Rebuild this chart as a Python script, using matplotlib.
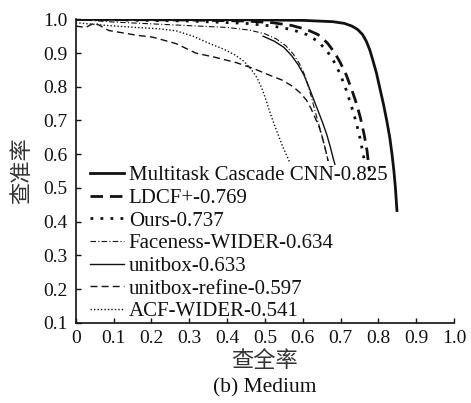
import matplotlib
matplotlib.use('Agg')
import matplotlib.pyplot as plt

plt.rcParams['font.family'] = ['Liberation Serif', 'Noto Sans CJK SC']

# recall / precision points
mtcnn_x = [0.0, 0.4, 0.6, 0.68, 0.71, 0.73, 0.745, 0.758, 0.768, 0.777, 0.785, 0.795,
           0.805, 0.814, 0.822, 0.83, 0.836, 0.841, 0.845, 0.849]
mtcnn_y = [1.0, 0.999, 0.997, 0.993, 0.988, 0.98, 0.97, 0.955, 0.935, 0.91, 0.88, 0.84,
           0.79, 0.745, 0.70, 0.65, 0.60, 0.55, 0.50, 0.433]

ldcf_x = [0.0, 0.3, 0.45, 0.52, 0.57, 0.61, 0.64, 0.665, 0.685, 0.70, 0.715, 0.73,
          0.742, 0.752, 0.762, 0.77, 0.775, 0.777]
ldcf_y = [1.0, 0.998, 0.995, 0.99, 0.982, 0.97, 0.955, 0.93, 0.90, 0.87, 0.835, 0.79,
          0.75, 0.71, 0.66, 0.61, 0.56, 0.55]

ours_x = [0.0, 0.3, 0.45, 0.52, 0.57, 0.61, 0.64, 0.665, 0.685, 0.70, 0.715, 0.728,
          0.74, 0.75, 0.758, 0.763]
ours_y = [1.0, 0.995, 0.988, 0.98, 0.97, 0.955, 0.935, 0.905, 0.87, 0.835, 0.79, 0.745,
          0.70, 0.655, 0.61, 0.58]

faceness_x = [0.0, 0.1, 0.25, 0.4, 0.46, 0.5, 0.53, 0.555, 0.575, 0.592, 0.605, 0.615,
              0.624, 0.632, 0.642, 0.652, 0.66, 0.667]
faceness_y = [1.0, 0.992, 0.984, 0.976, 0.968, 0.957, 0.942, 0.922, 0.897, 0.867, 0.835, 0.80,
              0.765, 0.73, 0.69, 0.65, 0.615, 0.58]

unitbox_x = [0.495, 0.525, 0.55, 0.57, 0.588, 0.603, 0.616, 0.628, 0.64, 0.652, 0.663,
             0.672, 0.68, 0.685]
unitbox_y = [0.95, 0.935, 0.917, 0.893, 0.865, 0.835, 0.80, 0.765, 0.73, 0.695, 0.66,
             0.625, 0.59, 0.57]

refine_x = [0.0, 0.026, 0.05, 0.087, 0.16, 0.204, 0.265, 0.317, 0.37, 0.423, 0.468,
            0.513, 0.545, 0.575, 0.595, 0.61, 0.622, 0.634, 0.645, 0.655, 0.663, 0.667]
refine_y = [0.98, 0.976, 0.99, 0.967, 0.953, 0.947, 0.928, 0.90, 0.887, 0.872, 0.855,
            0.834, 0.82, 0.80, 0.78, 0.76, 0.735, 0.705, 0.675, 0.635, 0.60, 0.58]

acf_x = [0.0, 0.08, 0.16, 0.22, 0.265, 0.31, 0.35, 0.39, 0.42, 0.445, 0.465, 0.48,
         0.492, 0.503, 0.513, 0.524, 0.536, 0.548, 0.56, 0.566]
acf_y = [0.99, 0.982, 0.976, 0.972, 0.966, 0.95, 0.93, 0.912, 0.895, 0.875, 0.85, 0.825,
         0.795, 0.76, 0.725, 0.69, 0.655, 0.62, 0.59, 0.575]

labels = ['Multitask Cascade CNN-0.825', 'LDCF+-0.769', 'Ours-0.737',
          'Faceness-WIDER-0.634', 'unitbox-0.633', 'unitbox-refine-0.597',
          'ACF-WIDER-0.541']

xticks = [0, 0.1, 0.2, 0.3, 0.4, 0.5, 0.6, 0.7, 0.8, 0.9, 1.0]
xticklabels = ['0', '0.1', '0.2', '0.3', '0.4', '0.5', '0.6', '0.7', '0.8', '0.9', '1.0']
yticks = [0.1, 0.2, 0.3, 0.4, 0.5, 0.6, 0.7, 0.8, 0.9, 1.0]
yticklabels = ['0.1', '0.2', '0.3', '0.4', '0.5', '0.6', '0.7', '0.8', '0.9', '1.0']

fig = plt.figure(figsize=(4.71, 4.03), dpi=100)
ax = fig.add_axes([0.161, 0.199, 0.803, 0.753])

k = '#111111'
ax.plot(mtcnn_x, mtcnn_y, color=k, lw=2.0, label=labels[0])
ax.plot(ldcf_x, ldcf_y, color=k, lw=2.0, dashes=(4.5, 2.5), label=labels[1])
ax.plot(ours_x, ours_y, color=k, lw=2.0, dashes=(1.0, 2.6), label=labels[2])
ax.plot(faceness_x, faceness_y, color=k, lw=0.8, dashes=(5, 2, 1, 2), label=labels[3])
ax.plot(unitbox_x, unitbox_y, color=k, lw=1.0, label=labels[4])
ax.plot(refine_x, refine_y, color=k, lw=1.0, dashes=(5, 3), label=labels[5])
ax.plot(acf_x, acf_y, color=k, lw=1.0, dashes=(1, 1.5), label=labels[6])

ax.set_xlim(0, 1.0)
ax.set_ylim(0.1, 1.0)
ax.set_xticks(xticks)
ax.set_xticklabels(xticklabels)
ax.set_yticks(yticks)
ax.set_yticklabels(yticklabels)
ax.tick_params(direction='in', length=3.5, width=1.0, labelsize=14, colors=k)
ax.tick_params(axis='x', pad=5)
ax.tick_params(axis='y', pad=6)

for side in ['top', 'right']:
    ax.spines[side].set_visible(False)
for side in ['left', 'bottom']:
    ax.spines[side].set_linewidth(1.2)
    ax.spines[side].set_color(k)

ax.set_xlabel('查全率', fontsize=16, labelpad=3, color='#333333', fontweight='light')
ax.set_ylabel('查准率', fontsize=16, labelpad=7, color='#333333', fontweight='light')
fig.text(0.563, 0.037, '(b) Medium', ha='center', va='center', fontsize=15.5, color=k)

ax.legend(loc='upper left', bbox_to_anchor=(0.038, 0.518), frameon=False,
          fontsize=15, handlelength=1.6, handletextpad=0.25, labelspacing=0.15,
          borderpad=0, borderaxespad=0, labelcolor=k)

fig.savefig('out.png', dpi=100)
